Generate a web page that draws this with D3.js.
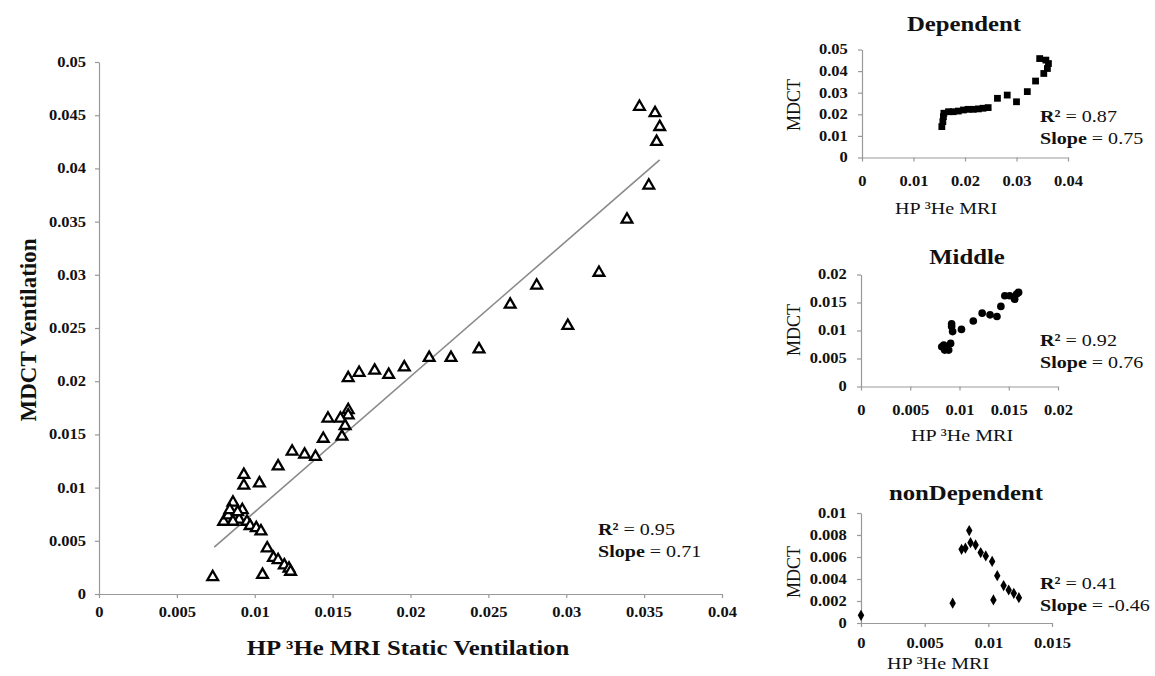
<!DOCTYPE html>
<html><head><meta charset="utf-8">
<script src="https://cdn.jsdelivr.net/npm/d3@7"></script>
<style>
body{margin:0;background:#fff}
text{font-family:"Liberation Serif","Times New Roman",serif;fill:#111}
</style>
</head><body>
<svg id="c" width="1155" height="676"></svg>
<script>
// ---------- DATA ----------
// Main chart: MDCT Ventilation vs HP 3He MRI Static Ventilation (all regions)
const mainX = [0.0347,0.0357,0.0360,0.0358,0.0353,0.0339,0.0321,0.0281,0.0264,0.0301,
               0.0244,0.0226,0.0212,0.0196,0.0186,0.0177,0.0167,0.0160,0.0160,0.0160,
               0.0155,0.0147,0.0158,0.0156,0.0144,0.0139,0.0132,0.0124,0.0115,0.0103,
               0.0093,0.0093,0.0105,0.0073,0.0086,0.0092,0.0080,0.0083,0.0087,0.0090,
               0.0086,0.0095,0.0097,0.0101,0.0104,0.0108,0.0112,0.0115,0.0119,0.0122,
               0.0123,0.0084,0.0089];
const mainY = [0.0458,0.0452,0.0439,0.0425,0.0384,0.0352,0.0302,0.0290,0.0272,0.0252,
               0.0230,0.0222,0.0222,0.0213,0.0206,0.0210,0.0208,0.0203,0.0173,0.0168,
               0.0165,0.0165,0.0158,0.0148,0.0146,0.0129,0.0131,0.0134,0.0120,0.0104,
               0.0112,0.0102,0.0018,0.0016,0.0086,0.0079,0.0068,0.0074,0.0071,0.0070,
               0.0068,0.0068,0.0064,0.0062,0.0059,0.0043,0.0034,0.0032,0.0027,0.0024,
               0.0021,0.0079,0.0077];
const mainFitX = [0.0074, 0.0360];
const mainFitY = [0.0044, 0.0408];
const mainXTicks = [0,0.005,0.01,0.015,0.02,0.025,0.03,0.035,0.04];
const mainYTicks = [0,0.005,0.01,0.015,0.02,0.025,0.03,0.035,0.04,0.045,0.05];

// Dependent
const depX = [0.0155,0.0157,0.0158,0.0159,0.0168,0.0177,0.0187,0.0197,0.0206,0.0216,
              0.0226,0.0235,0.0245,0.0263,0.0282,0.0300,0.0321,0.0337,0.0353,0.0345,
              0.0357,0.0362,0.0360];
const depY = [0.0143,0.0166,0.0189,0.0205,0.0212,0.0212,0.0215,0.0220,0.0223,0.0223,
              0.0225,0.0228,0.0231,0.0274,0.0289,0.0258,0.0305,0.0354,0.0389,0.0458,
              0.0451,0.0435,0.0412];
const depXTicks = [0,0.01,0.02,0.03,0.04];
const depYTicks = [0,0.01,0.02,0.03,0.04,0.05];

// Middle
const midX = [0.0082,0.0085,0.0084,0.0087,0.0091,0.0089,0.0092,0.0093,0.0092,0.0102,
              0.0114,0.0123,0.0131,0.0138,0.0142,0.0146,0.0151,0.0156,0.0158,0.0160];
const midY = [0.0071,0.0065,0.0074,0.0070,0.0077,0.0065,0.0107,0.0098,0.0112,0.0102,
              0.0117,0.0131,0.0128,0.0125,0.0143,0.0162,0.0162,0.0156,0.0165,0.0168];
const midXTicks = [0,0.005,0.01,0.015,0.02];
const midYTicks = [0,0.005,0.01,0.015,0.02];

// nonDependent
const nonX = [0,0.0072,0.0079,0.0082,0.0086,0.0085,0.0090,0.0094,0.0098,0.0103,
              0.0104,0.0107,0.0112,0.0116,0.0120,0.0124];
const nonY = [0.0007,0.0018,0.0067,0.0068,0.0073,0.0084,0.0071,0.0064,0.0061,0.0056,
              0.0021,0.0043,0.0034,0.0030,0.0027,0.0023];
const nonXTicks = [0,0.005,0.01,0.015];
const nonYTicks = [0,0.002,0.004,0.006,0.008,0.01];

// ---------- DRAW ----------
const S = 1.18; // horizontal text stretch seen in the reference
const svg = d3.select("#c");
const fmt = d => String(+d.toFixed(4));
const axisColor = "#999";

function styleAxis(g, fs){
  g.select(".domain").attr("stroke", axisColor).attr("stroke-width", 1.2);
  g.selectAll(".tick line").attr("stroke", axisColor).attr("stroke-width", 1.2);
  g.selectAll(".tick text").attr("font-size", fs).attr("font-weight", "bold")
    .attr("fill", "#111").attr("transform", `scale(${S},1)`)
    .style("font-family", '"Liberation Serif","Times New Roman",serif');
}

function txt(parent, x, y, fs, weight, anchor, str, rotate){
  return parent.append("text")
    .attr("transform", rotate ? `translate(${x},${y}) rotate(-90)` : `translate(${x},${y}) scale(${S},1)`)
    .attr("font-size", fs).attr("font-weight", weight).attr("text-anchor", anchor).text(str);
}

function panel(cfg){
  const x = d3.scaleLinear().domain(cfg.xd).range([cfg.x0, cfg.x1]);
  const y = d3.scaleLinear().domain(cfg.yd).range([cfg.y0, cfg.y1]);
  const g = svg.append("g");
  const gx = g.append("g").attr("transform", `translate(0,${cfg.y0})`)
    .call(d3.axisBottom(x).tickValues(cfg.xt).tickFormat(fmt).tickSize(4).tickSizeOuter(0).tickPadding(cfg.xpad));
  styleAxis(gx, cfg.tfs);
  const gy = g.append("g").attr("transform", `translate(${cfg.x0},0)`)
    .call(d3.axisLeft(y).tickValues(cfg.yt).tickFormat(fmt).tickSize(4).tickSizeOuter(0).tickPadding(cfg.ypad));
  styleAxis(gy, cfg.tfs);
  return {g, x, y};
}

function stats(g, x, y, r2, slope, fs){
  const t1 = g.append("text").attr("transform", `translate(${x},${y}) scale(${S},1)`).attr("font-size", fs);
  t1.append("tspan").attr("font-weight","bold").text("R²");
  t1.append("tspan").text(" = " + r2);
  const t2 = g.append("text").attr("transform", `translate(${x},${y + fs*1.32}) scale(${S},1)`).attr("font-size", fs);
  t2.append("tspan").attr("font-weight","bold").text("Slope");
  t2.append("tspan").text(" = " + slope);
}

// Main
{
  const p = panel({xd:[0,0.04], yd:[0,0.05], x0:99, x1:722, y0:594, y1:62,
                   xt:mainXTicks, yt:mainYTicks, tfs:14, xpad:9, ypad:7});
  const line = d3.line().x(d=>p.x(d[0])).y(d=>p.y(d[1]));
  p.g.append("path").datum(d3.zip(mainFitX, mainFitY)).attr("d", line)
    .attr("stroke","#8a8a8a").attr("stroke-width",1.6).attr("fill","none");
  const tri = d3.symbol().type(d3.symbolTriangle).size(50);
  p.g.selectAll("path.pt").data(d3.zip(mainX, mainY)).join("path").attr("class","pt")
    .attr("d", tri).attr("transform", d=>`translate(${p.x(d[0])},${p.y(d[1])})`)
    .attr("fill","#fff").attr("stroke","#000").attr("stroke-width",2.3);
  stats(p.g, 598, 535, "0.95", "0.71", 17);
  txt(svg, 408, 655, 21, "bold", "middle", "HP ³He MRI Static Ventilation");
  txt(svg, 36, 330, 23, "bold", "middle", "MDCT Ventilation", true);
}

function small(cfg, xs, ys, sym, title, r2, slope){
  const p = panel(cfg);
  p.g.selectAll("path.pt").data(d3.zip(xs, ys)).join("path").attr("class","pt")
    .attr("d", sym).attr("transform", d=>`translate(${p.x(d[0])},${p.y(d[1])})`)
    .attr("fill","#000");
  txt(svg, cfg.tx, cfg.ty, 21, "bold", "middle", title);
  txt(svg, cfg.lx, cfg.ly, 18, "normal", "middle", "MDCT", true);
  txt(svg, cfg.bx, cfg.by, 17, "normal", "middle", "HP ³He MRI");
  stats(p.g, 1040, cfg.sy, r2, slope, 17);
}

small({xd:[0,0.04], yd:[0,0.05], x0:862, x1:1068, y0:157.5, y1:49.5, xt:depXTicks, yt:depYTicks,
       tfs:14, xpad:15, ypad:8, tx:964, ty:31, lx:800, ly:105, bx:946, by:214, sy:122},
      depX, depY, d3.symbol().type(d3.symbolSquare).size(46), "Dependent", "0.87", "0.75");

small({xd:[0,0.02], yd:[0,0.02], x0:861, x1:1058, y0:386.5, y1:274.5, xt:midXTicks, yt:midYTicks,
       tfs:14, xpad:15, ypad:8, tx:967, ty:264, lx:800, ly:330, bx:962, by:441, sy:346},
      midX, midY, d3.symbol().type(d3.symbolCircle).size(46), "Middle", "0.92", "0.76");

small({xd:[0,0.015], yd:[0,0.01], x0:861, x1:1052, y0:623, y1:513, xt:nonXTicks, yt:nonYTicks,
       tfs:14, xpad:11, ypad:8, tx:966, ty:500, lx:800, ly:572, bx:938, by:669, sy:589},
      nonX, nonY, d3.symbol().type(d3.symbolDiamond).size(36), "nonDependent", "0.41", "-0.46");
</script>
</body></html>
